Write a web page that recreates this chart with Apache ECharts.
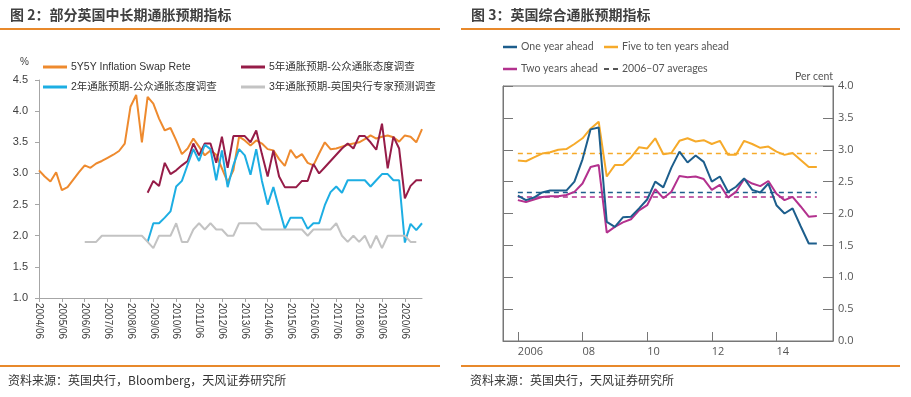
<!DOCTYPE html>
<html>
<head>
<meta charset="utf-8">
<title>英国通胀预期指标</title>
<script src="https://cdn.jsdelivr.net/npm/echarts@6/dist/echarts.min.js"></script>
<style>
    html, body { margin: 0; padding: 0; background: #fff; }
    #main { width: 911px; height: 397px; }
</style>
</head>
<body>
<div id="main"></div>
<script>
// ---------- 图2：季度数据，2004/06 起 ----------
var quarterLabels = [];
(function () {
    var y = 2004, m = 6;
    for (var i = 0; i < 68; i++) {
        quarterLabels.push(y + '/' + (m < 10 ? '0' + m : m));
        m += 3;
        if (m > 12) { m -= 12; y++; }
    }
})();

var swap5y5y = [3.05, 2.95, 2.87, 3.02, 2.73, 2.78, 2.90, 3.02, 3.13, 3.09,
    3.16, 3.20, 3.25, 3.30, 3.36, 3.48, 4.07, 4.26, 3.50, 4.23,
    4.12, 3.88, 3.69, 3.73, 3.53, 3.31, 3.40, 3.56, 3.43, 3.29,
    3.37, 3.30, 3.08, 2.86, 3.05, 3.59, 3.53, 3.45, 3.53, 3.48,
    3.39, 3.37, 3.23, 3.12, 3.38, 3.25, 3.31, 3.17, 3.13, 3.32,
    3.50, 3.39, 3.40, 3.43, 3.46, 3.48, 3.50, 3.55, 3.61, 3.56,
    3.59, 3.61, 3.58, 3.51, 3.61, 3.59, 3.50, 3.71];

// 从第19个季度(2009/03)开始
var public5y = [2.69, 2.88, 2.80, 3.17, 2.99, 3.05, 3.13, 3.20, 3.48, 3.29,
    3.48, 3.48, 3.17, 3.59, 3.09, 3.60, 3.60, 3.60, 3.50, 3.69,
    3.31, 2.95, 3.37, 2.95, 2.78, 2.78, 2.78, 2.88, 2.88, 3.15,
    3.00, 3.10, 3.20, 3.30, 3.40, 3.48, 3.40, 3.60, 3.60, 3.50,
    3.38, 3.80, 3.08, 3.59, 3.40, 2.60, 2.80, 2.89, 2.89];

var public2y = [1.90, 2.20, 2.20, 2.29, 2.39, 2.79, 2.88, 3.14, 3.39, 3.20,
    3.46, 3.39, 2.89, 3.37, 2.78, 3.13, 3.39, 3.29, 2.98, 3.39,
    2.88, 2.50, 2.78, 2.44, 2.11, 2.29, 2.29, 2.29, 2.11, 2.20,
    2.20, 2.49, 2.70, 2.79, 2.69, 2.89, 2.89, 2.89, 2.89, 2.79,
    2.89, 2.99, 2.99, 2.89, 2.89, 1.89, 2.19, 2.09, 2.20];

// 从第8个季度(2006/06)开始
var expert3y = [1.90, 1.90, 1.90, 2.00, 2.00, 2.00, 2.00, 2.00, 2.00, 2.00,
    2.00, 1.90, 1.80, 2.00, 2.00, 2.00, 2.20, 1.90, 1.90, 2.10,
    2.20, 2.10, 2.20, 2.10, 2.10, 2.00, 2.00, 2.20, 2.20, 2.20,
    2.20, 2.10, 2.10, 2.10, 2.10, 2.10, 2.10, 2.10, 2.10, 2.00,
    2.10, 2.10, 2.10, 2.10, 2.20, 2.00, 1.90, 2.00, 1.90, 2.00,
    1.80, 2.00, 1.80, 2.00, 2.00, 2.00, 2.00, 1.90, 1.90];

// ---------- 图3：季度数据，2006Q1 起 ----------
var oneYear = [2.28, 2.21, 2.25, 2.33, 2.36, 2.36, 2.36, 2.50, 2.85, 3.32,
    3.35, 1.87, 1.79, 1.94, 1.95, 2.08, 2.22, 2.50, 2.41, 2.72,
    2.97, 2.80, 2.91, 2.81, 2.50, 2.58, 2.34, 2.42, 2.55, 2.37,
    2.33, 2.47, 2.13, 2.00, 2.08, 1.80, 1.53, 1.53];
var twoYears = [2.21, 2.18, 2.22, 2.26, 2.27, 2.27, 2.29, 2.34, 2.47, 2.73,
    2.76, 1.70, 1.79, 1.86, 1.91, 2.05, 2.13, 2.38, 2.24, 2.34,
    2.59, 2.57, 2.58, 2.54, 2.37, 2.45, 2.25, 2.34, 2.54, 2.47,
    2.43, 2.51, 2.31, 2.21, 2.26, 2.11, 1.95, 1.96];
var fiveToTen = [2.83, 2.82, 2.88, 2.94, 2.96, 3.00, 3.01, 3.09, 3.18, 3.33,
    3.44, 2.58, 2.76, 2.76, 2.88, 3.04, 3.02, 3.18, 2.93, 2.95,
    3.14, 3.18, 3.13, 3.15, 3.09, 3.14, 2.92, 2.92, 3.14, 3.09,
    3.03, 3.05, 2.97, 2.92, 2.95, 2.84, 2.73, 2.73];
// 2006-07 平均值：一年、五到十年、两年
var avgOneYear = 2.33, avgFiveToTen = 2.94, avgTwoYears = 2.26;
var firstYear = 2006;
var yearTicks = [2006, 2008, 2010, 2012, 2014];
var yearTickLabels = ['2006', '08', '10', '12', '14'];

function padFront(n, arr) {
    var out = [];
    for (var i = 0; i < n; i++) out.push(null);
    return out.concat(arr);
}
function toQuarterPoints(arr) {
    return arr.map(function (v, i) { return [firstYear + i / 4, v]; });
}
function flatLine(v, len) {
    return [[firstYear, v], [firstYear + (len - 1) / 4, v]];
}

var cjk = '"Noto Sans CJK SC", sans-serif';
var sans = '"Liberation Sans", Arial, sans-serif';
var mixed = '"Liberation Sans", "Noto Sans CJK SC", sans-serif';
var boe = '"Open Sans", "Noto Sans", sans-serif';
var boeText = 'Lato, "Open Sans", sans-serif';
var ruleColor = '#E8892B';
var dashIcon = 'path://M0,0H5V2H0Z M9,0H14V2H9Z';

var myChart = echarts.init(document.getElementById('main'));

var leftLegendBase = {
    orient: 'vertical',
    top: 60,
    padding: 0,
    itemGap: 6,
    itemWidth: 24,
    itemHeight: 3,
    icon: 'rect',
    textStyle: { fontFamily: mixed, fontSize: 10.5, lineHeight: 14, color: '#333', padding: [0, 0, 0, -1] }
};
var rightLegendBase = {
    orient: 'vertical',
    top: 40,
    padding: 0,
    itemGap: 8,
    itemWidth: 14,
    itemHeight: 2.5,
    icon: 'rect',
    textStyle: { fontFamily: boeText, fontSize: 10.5, lineHeight: 14, color: '#555', padding: [0, 0, 0, -1] }
};

var option = {
    animation: false,
    backgroundColor: '#fff',
    legend: [
        Object.assign({ left: 43, data: ['5Y5Y Inflation Swap Rete', '2年通胀预期-公众通胀态度调查'] }, leftLegendBase),
        Object.assign({ left: 241, data: ['5年通胀预期-公众通胀态度调查', '3年通胀预期-英国央行专家预测调查'] }, leftLegendBase),
        Object.assign({ left: 503, data: ['One year ahead', 'Two years ahead'] }, rightLegendBase),
        Object.assign({
            left: 604,
            data: ['Five to ten years ahead', { name: '2006–07 averages', icon: dashIcon }]
        }, rightLegendBase)
    ],
    grid: [
        { left: 39, top: 80, width: 383, height: 218 },
        { left: 503, top: 86, width: 330, height: 255, show: true, borderColor: '#777', borderWidth: 1 }
    ],
    xAxis: [
        {
            gridIndex: 0,
            type: 'category',
            boundaryGap: false,
            data: quarterLabels,
            axisLine: { lineStyle: { color: '#A6A6A6' } },
            axisTick: { interval: 3, length: 4, lineStyle: { color: '#A6A6A6' } },
            axisLabel: {
                interval: 3, rotate: -90, margin: 5,
                fontFamily: sans, fontSize: 10, color: '#404040'
            },
            splitLine: { show: false }
        },
        {
            gridIndex: 1,
            type: 'value',
            min: 2005.54,
            max: 2015.75,
            axisLine: { lineStyle: { color: '#777' } },
            axisTick: {
                inside: true, length: 9, customValues: yearTicks,
                lineStyle: { color: '#777' }
            },
            axisLabel: {
                customValues: yearTicks,
                formatter: function (v) { return yearTickLabels[yearTicks.indexOf(Math.round(v))]; },
                align: 'left', margin: 5,
                fontFamily: boe, fontSize: 11, color: '#555'
            },
            splitLine: { show: false }
        }
    ],
    yAxis: [
        {
            gridIndex: 0,
            min: 1, max: 4.5, interval: 0.5,
            axisLine: { show: true, lineStyle: { color: '#A6A6A6' } },
            axisTick: { show: true, length: 4, lineStyle: { color: '#A6A6A6' } },
            axisLabel: {
                formatter: function (v) { return v.toFixed(1); },
                margin: 11, fontFamily: sans, fontSize: 11, color: '#404040'
            },
            splitLine: { show: false }
        },
        {
            gridIndex: 1,
            position: 'right',
            min: 0, max: 4, interval: 0.5,
            axisLine: { show: true, lineStyle: { color: '#777' } },
            axisTick: { show: true, inside: true, length: 10, lineStyle: { color: '#777' } },
            axisLabel: {
                formatter: function (v) { return v.toFixed(1); },
                margin: 5, fontFamily: boe, fontSize: 11, color: '#555'
            },
            splitLine: { show: false }
        },
        {
            gridIndex: 1,
            position: 'left',
            min: 0, max: 4, interval: 0.5,
            axisLine: { show: true, lineStyle: { color: '#777' } },
            axisTick: { show: true, inside: true, length: 10, lineStyle: { color: '#777' } },
            axisLabel: { show: false },
            splitLine: { show: false }
        }
    ],
    series: [
        {
            name: '5Y5Y Inflation Swap Rete', type: 'line', xAxisIndex: 0, yAxisIndex: 0,
            data: swap5y5y, symbol: 'none', color: '#EE8A2E', lineStyle: { width: 2 }
        },
        {
            name: '5年通胀预期-公众通胀态度调查', type: 'line', xAxisIndex: 0, yAxisIndex: 0,
            data: padFront(19, public5y), symbol: 'none', color: '#961C48', lineStyle: { width: 2 }
        },
        {
            name: '2年通胀预期-公众通胀态度调查', type: 'line', xAxisIndex: 0, yAxisIndex: 0,
            data: padFront(19, public2y), symbol: 'none', color: '#1DAEE3', lineStyle: { width: 2 }
        },
        {
            name: '3年通胀预期-英国央行专家预测调查', type: 'line', xAxisIndex: 0, yAxisIndex: 0,
            data: padFront(8, expert3y), symbol: 'none', color: '#C3C3C3', lineStyle: { width: 2 }
        },
        // 图3 平均值虚线
        {
            name: 'avg-510', type: 'line', xAxisIndex: 1, yAxisIndex: 1,
            data: flatLine(avgFiveToTen, fiveToTen.length), symbol: 'none', color: '#F6AA2A',
            lineStyle: { width: 1.5, type: [5, 4] }
        },
        {
            name: 'avg-1', type: 'line', xAxisIndex: 1, yAxisIndex: 1,
            data: flatLine(avgOneYear, oneYear.length), symbol: 'none', color: '#1D5E8C',
            lineStyle: { width: 1.5, type: [5, 4] }
        },
        {
            name: 'avg-2', type: 'line', xAxisIndex: 1, yAxisIndex: 1,
            data: flatLine(avgTwoYears, twoYears.length), symbol: 'none', color: '#B3318E',
            lineStyle: { width: 1.5, type: [5, 4] }
        },
        {
            name: '2006–07 averages', type: 'line', xAxisIndex: 1, yAxisIndex: 1,
            data: [], symbol: 'none', color: '#555', lineStyle: { width: 1.5, type: [4, 4] }
        },
        {
            name: 'Five to ten years ahead', type: 'line', xAxisIndex: 1, yAxisIndex: 1,
            data: toQuarterPoints(fiveToTen), symbol: 'none', color: '#F6AA2A', lineStyle: { width: 2 }
        },
        {
            name: 'Two years ahead', type: 'line', xAxisIndex: 1, yAxisIndex: 1,
            data: toQuarterPoints(twoYears), symbol: 'none', color: '#B3318E', lineStyle: { width: 2 }
        },
        {
            name: 'One year ahead', type: 'line', xAxisIndex: 1, yAxisIndex: 1,
            data: toQuarterPoints(oneYear), symbol: 'none', color: '#1D5E8C', lineStyle: { width: 2 }
        }
    ],
    graphic: [
        // 标题
        { type: 'text', left: 10, top: 8, style: { text: '图 2：部分英国中长期通胀预期指标', fontFamily: cjk, fontSize: 14, fontWeight: 'bold', fill: '#404040' } },
        { type: 'rect', shape: { x: 0, y: 28, width: 440, height: 2 }, style: { fill: ruleColor } },
        { type: 'text', left: 471, top: 8, style: { text: '图 3：英国综合通胀预期指标', fontFamily: cjk, fontSize: 14, fontWeight: 'bold', fill: '#404040' } },
        { type: 'rect', shape: { x: 461, y: 28, width: 439, height: 2 }, style: { fill: ruleColor } },
        // 单位
        { type: 'text', left: 20, top: 57, style: { text: '%', fontFamily: sans, fontSize: 10, fill: '#404040' } },
        { type: 'text', right: 78, top: 71, style: { text: 'Per cent', fontFamily: boeText, fontSize: 10.5, fill: '#555' } },
        // 资料来源
        { type: 'rect', shape: { x: 0, y: 365, width: 440, height: 2 }, style: { fill: ruleColor } },
        { type: 'rect', shape: { x: 461, y: 365, width: 439, height: 2 }, style: { fill: ruleColor } },
        { type: 'text', left: 8, top: 374, style: { text: '资料来源：英国央行，Bloomberg，天风证券研究所', fontFamily: cjk, fontSize: 12, fill: '#333' } },
        { type: 'text', left: 470, top: 374, style: { text: '资料来源：英国央行，天风证券研究所', fontFamily: cjk, fontSize: 12, fill: '#333' } }
    ]
};

myChart.setOption(option);
</script>
</body>
</html>
